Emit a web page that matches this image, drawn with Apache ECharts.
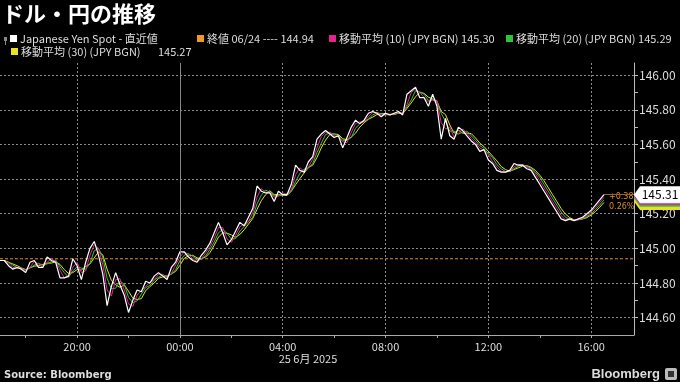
<!DOCTYPE html>
<html><head><meta charset="utf-8">
<script src="https://cdn.jsdelivr.net/npm/echarts@6/dist/echarts.min.js"></script>
<style>html,body{margin:0;padding:0;background:#000;}#c{width:680px;height:382px;}</style>
</head><body><div id="c"></div>
<script>
// ---- data ----
const startHour = 17;          // 24 Jun 17:00 (local)
const stepMinutes = 10;
const slotCount = 149;         // 24 Jun 17:00 .. 25 Jun 17:40
const price = [
144.93,144.93,144.90,144.88,144.89,144.88,144.86,144.92,144.93,144.89,
144.89,144.95,144.93,144.92,144.83,144.83,144.84,144.94,144.90,144.82,
144.92,145.00,145.04,144.96,144.85,144.67,144.78,144.86,144.79,144.73,
144.63,144.70,144.76,144.75,144.81,144.80,144.84,144.86,144.84,144.82,
144.89,144.92,144.98,144.98,144.95,144.93,144.92,144.96,144.99,145.03,
145.09,145.15,145.09,145.02,145.05,145.10,145.15,145.13,145.18,145.23,
145.36,145.33,145.32,145.32,145.27,145.33,145.31,145.31,145.37,145.48,
145.45,145.44,145.50,145.53,145.63,145.66,145.68,145.66,145.64,145.65,
145.58,145.64,145.70,145.74,145.72,145.74,145.78,145.79,145.78,145.76,
145.78,145.77,145.78,145.79,145.77,145.89,145.91,145.93,145.87,145.87,
145.82,145.89,145.82,145.63,145.75,145.65,145.63,145.70,145.68,145.65,
145.62,145.60,145.56,145.57,145.51,145.49,145.45,145.44,145.44,145.45,
145.49,145.48,145.48,145.46,145.45,145.41,145.37,145.33,145.29,145.25,
145.21,145.17,145.16,145.17,145.16,145.17,145.18,145.20,145.22,145.25,
145.28,145.31
];
const prevClose = 144.94;
const maPeriods = [10, 20, 30];       // 1-minute periods
const maWindows = [2, 3, 4];          // equivalent windows on 10-minute points
const maLast = [145.30, 145.29, 145.27];
const maColors = ['#e3248f', '#2ec43a', '#e8e020'];
const changeText = ['+0.38', '0.26%'];
const yMin = 144.5, yMax = 146.07, yStep = 0.1;
const gridColor = '#8a8a8a';
const closeColor = '#e8902e';

// ---- derived ----
const categories = [];
for (let k = 0; k < slotCount; k++) {
  const m = startHour * 60 + k * stepMinutes;
  const day = m >= 1440 ? '06-25' : '06-24';
  const mm = m % 1440;
  categories.push(day + ' ' + String(Math.floor(mm / 60)).padStart(2, '0') + ':' + String(mm % 60).padStart(2, '0'));
}
function movingAverage(src, w) {
  return src.map((v, i) => {
    const s = src.slice(Math.max(0, i - w + 1), i + 1);
    return +(s.reduce((a, b) => a + b, 0) / s.length).toFixed(4);
  });
}
const hourOf = c => parseInt(c.split(' ')[1].slice(0, 2), 10);
const minOf = c => parseInt(c.split(' ')[1].slice(3, 5), 10);
const lastIdx = price.length - 1;
const lastVal = price[lastIdx];
const endIdx = slotCount - 1;

const FONT = '"Noto Sans CJK JP", "Noto Sans", sans-serif';
const tagPath = 'path://M0,8 L6,0 L46,0 L46,16 L6,16 Z';

function tag(value, color, textColor, showText) {
  return {
    coord: [endIdx, value],
    symbol: tagPath, symbolSize: [46, 17], symbolOffset: [23, 0],
    itemStyle: { color: color },
    label: { show: showText, position: 'inside', offset: [3, 0], color: textColor, fontSize: 12, fontFamily: FONT, formatter: value.toFixed(2) }
  };
}

const maSeries = [2, 1, 0].map(i => ({
  type: 'line', name: 'MA' + maPeriods[i], data: movingAverage(price, maWindows[i]),
  showSymbol: false, symbol: 'none', lineStyle: { color: maColors[i], width: 1 }, z: 2 + (2 - i) * 0.1,
  animation: false,
  markPoint: { silent: true, animation: false, data: [tag(maLast[i], maColors[i], '#000', false)] }
}));

const legendRow1 = [
  { sq: '#ffffff', x: 10, text: 'Japanese Yen Spot - 直近値' },
  { sq: '#f39a1e', x: 197, text: '終値 06/24 ---- ' + prevClose.toFixed(2) },
  { sq: maColors[0], x: 329, text: '移動平均 (' + maPeriods[0] + ') (JPY BGN) ' + maLast[0].toFixed(2) },
  { sq: maColors[1], x: 506, text: '移動平均 (' + maPeriods[1] + ') (JPY BGN) ' + maLast[1].toFixed(2) }
];
const graphics = [
  { type: 'text', left: 2, top: 3, style: { text: 'ドル・円の推移', fill: '#fff', font: 'bold 22px ' + FONT } },
  { type: 'rect', shape: { x: 4, y: 37, width: 3, height: 4 }, style: { fill: '#888' } },
  { type: 'rect', shape: { x: 5, y: 40, width: 1, height: 5 }, style: { fill: '#888' } }
];
legendRow1.forEach(it => {
  graphics.push({ type: 'rect', shape: { x: it.x, y: 35, width: 7, height: 7 }, style: { fill: it.sq } });
  graphics.push({ type: 'text', x: it.x + 10, y: 39, style: { text: it.text, fill: '#ddd', font: '11px ' + FONT, verticalAlign: 'middle' } });
});
graphics.push({ type: 'rect', shape: { x: 11, y: 48, width: 7, height: 7 }, style: { fill: maColors[2] } });
graphics.push({ type: 'text', x: 21, y: 52, style: { text: '移動平均 (' + maPeriods[2] + ') (JPY BGN)', fill: '#ddd', font: '11px ' + FONT, verticalAlign: 'middle' } });
graphics.push({ type: 'text', x: 158, y: 52, style: { text: maLast[2].toFixed(2), fill: '#ddd', font: '11px ' + FONT, verticalAlign: 'middle' } });
graphics.push({ type: 'text', x: 308, y: 359, style: { text: '25 6月 2025', fill: '#ddd', font: '11px ' + FONT, align: 'center', verticalAlign: 'middle' } });
graphics.push({ type: 'text', x: 4, y: 375, style: { text: 'Source: Bloomberg', fill: '#ddd', font: 'bold 10px "DejaVu Sans", sans-serif', verticalAlign: 'middle' } });
graphics.push({ type: 'text', x: 660, y: 374, style: { text: 'Bloomberg', fill: '#ddd', font: 'bold 13px "Liberation Sans", sans-serif', align: 'right', verticalAlign: 'middle' } });
graphics.push({ type: 'rect', shape: { x: 665, y: 368, width: 12, height: 12, r: 2 }, style: { fill: '#bbb' } });
graphics.push({ type: 'rect', shape: { x: 668, y: 371, width: 6, height: 6 }, style: { fill: '#333' } });
graphics.push({ type: 'text', x: 609, y: 197, style: { text: changeText[0], fill: '#d88a2e', font: '8px "DejaVu Sans", sans-serif', verticalAlign: 'middle' } });
graphics.push({ type: 'text', x: 609, y: 207, style: { text: changeText[1], fill: '#d88a2e', font: '8px "DejaVu Sans", sans-serif', verticalAlign: 'middle' } });

const chart = echarts.init(document.getElementById('c'), null, { renderer: 'canvas' });
chart.setOption({
  backgroundColor: '#000',
  animation: false,
  grid: { left: 0, right: 46, top: 63, bottom: 47 },
  xAxis: {
    type: 'category', data: categories, boundaryGap: false,
    axisLine: { show: true, lineStyle: { color: '#aaa' } },
    axisTick: { show: true, length: 3, interval: (i, v) => minOf(v) === 0 && hourOf(v) % 2 === 0, lineStyle: { color: '#aaa' } },
    axisLabel: { interval: (i, v) => minOf(v) === 0 && hourOf(v) % 4 === 0, formatter: v => v.split(' ')[1], color: '#ddd', fontSize: 11, fontFamily: FONT, margin: 6 },
    splitLine: { show: true, interval: (i, v) => minOf(v) === 0 && hourOf(v) % 4 === 0, lineStyle: { color: gridColor, type: [2, 2], width: 1 } }
  },
  yAxis: {
    type: 'value', position: 'right', min: yMin, max: yMax, interval: yStep, scale: true,
    axisLine: { show: true, lineStyle: { color: '#bbb' } },
    axisTick: { show: true, length: 4, lineStyle: { color: '#bbb' } },
    axisLabel: {
      color: '#ddd', fontSize: 12, fontFamily: FONT, margin: 5, showMinLabel: false, showMaxLabel: false,
      formatter: v => (Math.abs(v * 5 - Math.round(v * 5)) < 1e-6 && v <= 146.001) ? v.toFixed(2) : ''
    },
    splitLine: { show: true, showMinLine: true, showMaxLine: false, lineStyle: { color: ['rgba(0,0,0,0)', gridColor], type: [2, 2], width: 1 } }
  },
  series: [
    {
      type: 'line', name: '終値 06/24', data: categories.map(() => prevClose), z: 1, silent: true,
      showSymbol: false, symbol: 'none',
      lineStyle: { color: closeColor, type: [3, 2], width: 1 }
    }
  ].concat(maSeries).concat([
    {
      type: 'line', name: 'Japanese Yen Spot', data: price, showSymbol: false, symbol: 'none',
      lineStyle: { color: '#ffffff', width: 1.2 }, z: 3,
      markLine: {
        silent: true, symbol: ['none', 'none'], animation: false, label: { show: false },
        emphasis: { disabled: true },
        data: [
          { xAxis: '06-25 00:00', lineStyle: { color: '#888', type: 'solid', width: 1 } },
          [{ coord: [lastIdx, lastVal], lineStyle: { color: '#9a622a', type: 'solid', width: 1 } }, { coord: [endIdx, lastVal] }]
        ]
      },
      markPoint: { silent: true, animation: false, data: [tag(lastVal, '#ffffff', '#000', true)] }
    }
  ]),
  graphic: graphics
});
</script></body></html>
